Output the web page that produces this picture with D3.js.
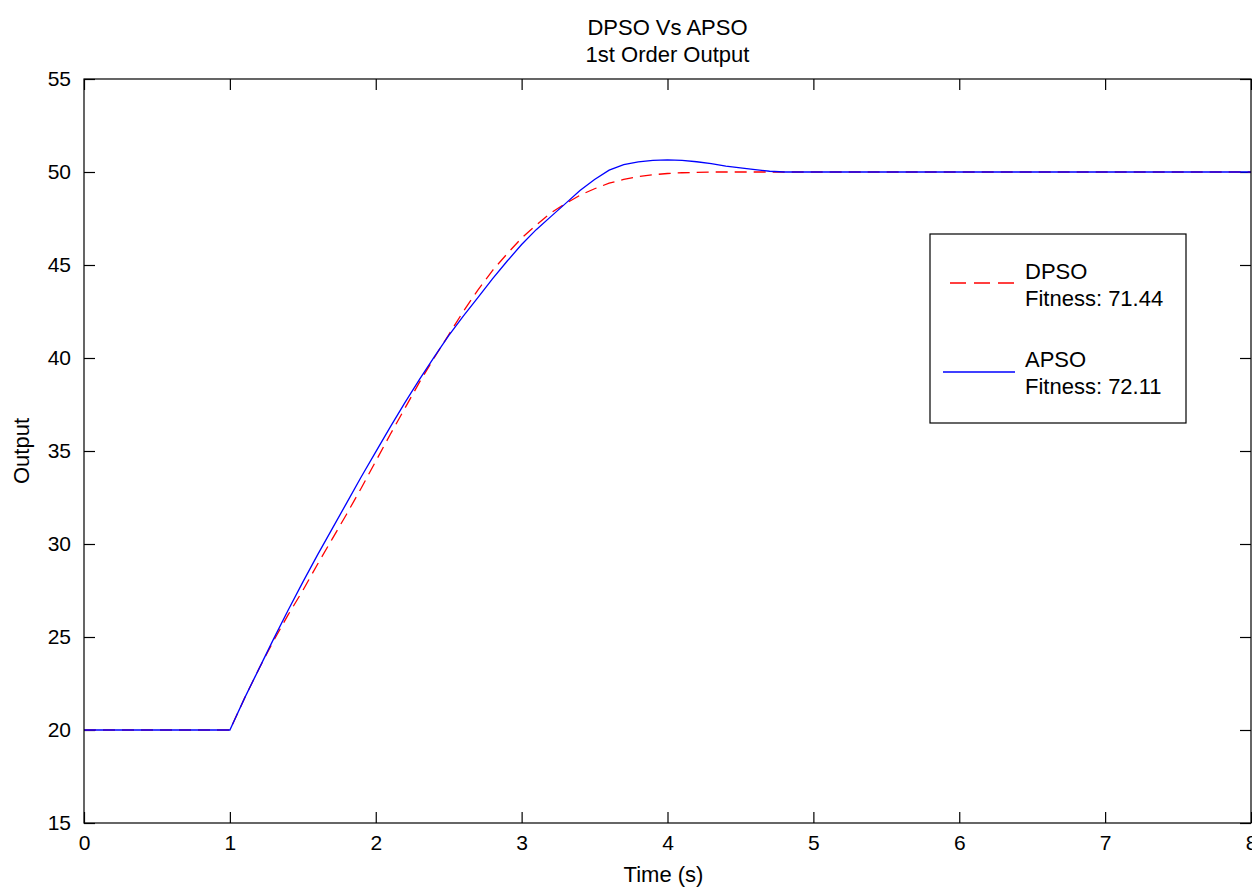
<!DOCTYPE html>
<html>
<head>
<meta charset="utf-8">
<script src="https://cdn.jsdelivr.net/npm/d3@7/dist/d3.min.js"></script>
<style>
  html, body { margin: 0; padding: 0; background: #fff; }
  svg { display: block; }
  text { font-family: "Liberation Sans", Arial, sans-serif; fill: #000; }
</style>
</head>
<body>
<svg id="chart" width="1252" height="891"></svg>
<script>
// Step response samples (time in seconds)
const timeS = [0, 1.0, 1.1, 1.2, 1.3, 1.4, 1.5, 1.6, 1.7, 1.8, 1.9,
  2.0, 2.1, 2.2, 2.3, 2.4, 2.5, 2.6, 2.7, 2.8, 2.9,
  3.0, 3.1, 3.2, 3.3, 3.4, 3.5, 3.6, 3.7, 3.8, 3.9,
  4.0, 4.1, 4.2, 4.3, 4.4, 4.5, 4.6, 4.7, 4.8, 8];

// DPSO-tuned controller output
const dpsoOutput = [20, 20, 21.7, 23.3, 24.8, 26.2, 27.5, 28.9, 30.25, 31.6, 33.0,
  34.45, 35.9, 37.3, 38.7, 40.0, 41.25, 42.5, 43.65, 44.7, 45.6,
  46.45, 47.15, 47.8, 48.3, 48.75, 49.1, 49.4, 49.6, 49.75, 49.85,
  49.92, 49.96, 49.98, 50.0, 50.0, 50.0, 50.0, 50.0, 50.0, 50];

// APSO-tuned controller output
const apsoOutput = [20, 20, 21.7, 23.3, 24.9, 26.45, 27.95, 29.4, 30.8, 32.2, 33.6,
  34.95, 36.3, 37.6, 38.85, 40.05, 41.2, 42.25, 43.25, 44.25, 45.2,
  46.1, 46.9, 47.6, 48.3, 49.0, 49.6, 50.1, 50.4, 50.55, 50.63,
  50.65, 50.63, 50.55, 50.45, 50.32, 50.22, 50.13, 50.04, 50.0, 50];

const xTicks = [0, 1, 2, 3, 4, 5, 6, 7, 8];
const yTicks = [15, 20, 25, 30, 35, 40, 45, 50, 55];

const seriesNames = ["DPSO", "APSO"];
const fitnessValues = [71.44, 72.11];

const titleLines = ["DPSO Vs APSO", "1st Order Output"];
const xLabel = "Time (s)";
const yLabel = "Output";

const svg = d3.select("#chart");
const pLeft = 84, pRight = 1251, pTop = 79, pBottom = 823;
const tickFont = 21;
const labelFont = 22;

const x = d3.scaleLinear().domain([0, 8]).range([pLeft, pRight]);
const y = d3.scaleLinear().domain([15, 55]).range([pBottom, pTop]);

svg.append("defs").append("clipPath").attr("id", "plotClip")
  .append("rect").attr("x", pLeft).attr("y", pTop)
  .attr("width", pRight - pLeft).attr("height", pBottom - pTop);

// Axes: ticks point inward on all four sides
const tickLen = 11;
const axisStyle = g => {
  g.select(".domain").remove();
  g.selectAll(".tick line").attr("stroke", "#000").attr("stroke-width", 1.2);
  g.selectAll(".tick text").attr("font-size", tickFont)
    .attr("font-family", '"Liberation Sans", Arial, sans-serif');
};

svg.append("g").attr("transform", `translate(0,${pBottom})`)
  .call(d3.axisBottom(x).tickValues(xTicks).tickSize(-tickLen).tickPadding(12).tickFormat(d3.format("d")))
  .call(axisStyle);
svg.append("g").attr("transform", `translate(0,${pTop})`)
  .call(d3.axisTop(x).tickValues(xTicks).tickSize(-tickLen).tickFormat(""))
  .call(axisStyle);
svg.append("g").attr("transform", `translate(${pLeft},0)`)
  .call(d3.axisLeft(y).tickValues(yTicks).tickSize(-tickLen).tickPadding(13).tickFormat(d3.format("d")))
  .call(axisStyle);
svg.append("g").attr("transform", `translate(${pRight},0)`)
  .call(d3.axisRight(y).tickValues(yTicks).tickSize(-tickLen).tickFormat(""))
  .call(axisStyle);

// Lines
const line = vals => d3.line()
  .x((d, i) => x(timeS[i]))
  .y(d => y(d))(vals);

const plot = svg.append("g").attr("clip-path", "url(#plotClip)");
plot.append("path").attr("d", line(dpsoOutput))
  .attr("fill", "none").attr("stroke", "#ff0000").attr("stroke-width", 1.3)
  .attr("stroke-dasharray", "12,7");
plot.append("path").attr("d", line(apsoOutput))
  .attr("fill", "none").attr("stroke", "#0000ff").attr("stroke-width", 1.3);

// Box
svg.append("rect").attr("x", pLeft).attr("y", pTop)
  .attr("width", pRight - pLeft).attr("height", pBottom - pTop)
  .attr("fill", "none").attr("stroke", "#000").attr("stroke-width", 1.2);

// Title
svg.append("text").attr("x", (pLeft + pRight) / 2).attr("y", 35)
  .attr("text-anchor", "middle").attr("font-size", labelFont).text(titleLines[0]);
svg.append("text").attr("x", (pLeft + pRight) / 2).attr("y", 62)
  .attr("text-anchor", "middle").attr("font-size", labelFont).text(titleLines[1]);

// Axis labels
svg.append("text").attr("x", (pLeft + pRight) / 2 - 4).attr("y", 882)
  .attr("text-anchor", "middle").attr("font-size", labelFont).text(xLabel);
svg.append("text").attr("transform", `translate(29,${(pTop + pBottom) / 2}) rotate(-90)`)
  .attr("text-anchor", "middle").attr("font-size", labelFont).text(yLabel);

// Legend
const lg = svg.append("g");
lg.append("rect").attr("x", 930).attr("y", 234).attr("width", 256).attr("height", 189)
  .attr("fill", "#fff").attr("stroke", "#000").attr("stroke-width", 1.2);
const legendItems = [
  { name: seriesNames[0], fit: fitnessValues[0], color: "#ff0000", dash: "16,8", x0: 950, ly: 283, ty: 279 },
  { name: seriesNames[1], fit: fitnessValues[1], color: "#0000ff", dash: null, x0: 943, ly: 372, ty: 367 }
];
legendItems.forEach(it => {
  const ln = lg.append("line").attr("x1", it.x0).attr("x2", 1015)
    .attr("y1", it.ly).attr("y2", it.ly)
    .attr("stroke", it.color).attr("stroke-width", 1.3);
  if (it.dash) ln.attr("stroke-dasharray", it.dash);
  lg.append("text").attr("x", 1025).attr("y", it.ty).attr("font-size", labelFont).text(it.name);
  lg.append("text").attr("x", 1025).attr("y", it.ty + 27).attr("font-size", labelFont)
    .text("Fitness: " + d3.format(".2f")(it.fit));
});
</script>
</body>
</html>
